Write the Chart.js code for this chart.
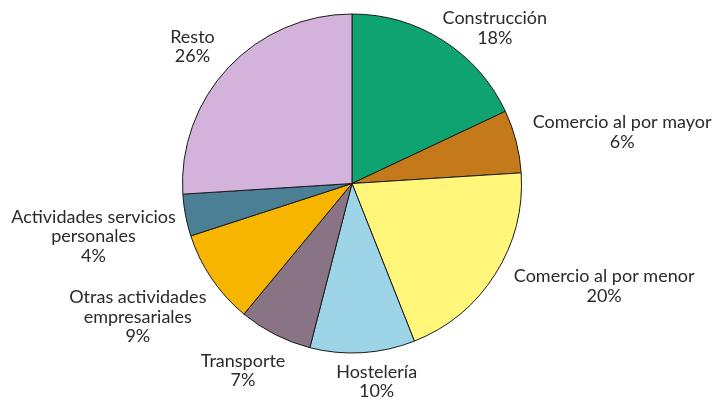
<!DOCTYPE html>
<html>
<head>
<meta charset="utf-8">
<script src="https://cdn.jsdelivr.net/npm/chart.js@4"></script>
<style>
html,body{margin:0;padding:0;background:#fff;}
#wrap{width:721px;height:401px;position:relative;}
</style>
</head>
<body>
<div id="wrap"><canvas id="c" width="721" height="401"></canvas></div>
<script>
const categories = [
  ["Construcción"],
  ["Comercio al por mayor"],
  ["Comercio al por menor"],
  ["Hostelería"],
  ["Transporte"],
  ["Otras actividades", "empresariales"],
  ["Actividades servicios", "personales"],
  ["Resto"]
];
const values = [18, 6, 20, 10, 7, 9, 4, 26];
const colors = ["#0FA371", "#C47A1A", "#FFF67A", "#9DD4E8", "#887484", "#F8B500", "#4A7F95", "#D3B2DB"];
// label anchor offsets (px) from the slice's outer edge midpoint
const labelOffsets = [[52, -12], [106, -9], [109, 12], [14, 29], [-32, 36], [-74, 38], [-92, 21], [-36, -21]];

const labelPlugin = {
  id: 'outLabels',
  afterDraw(chart) {
    const ctx = chart.ctx;
    const meta = chart.getDatasetMeta(0);
    const total = values.reduce((a, b) => a + b, 0);
    ctx.save();
    ctx.font = '18px Lato';
    ctx.fillStyle = '#2a2a2a';
    ctx.textAlign = 'center';
    ctx.textBaseline = 'middle';
    meta.data.forEach((arc, i) => {
      const p = arc.getProps(['x', 'y', 'startAngle', 'endAngle', 'outerRadius'], true);
      const mid = (p.startAngle + p.endAngle) / 2;
      const ex = p.x + Math.cos(mid) * p.outerRadius;
      const ey = p.y + Math.sin(mid) * p.outerRadius;
      const lines = categories[i].concat([Math.round(values[i] / total * 100) + '%']);
      const lh = 19.5;
      const cx = ex + labelOffsets[i][0];
      const cy = ey + labelOffsets[i][1];
      const y0 = cy - (lines.length - 1) * lh / 2;
      lines.forEach((t, k) => ctx.fillText(t, cx, y0 + k * lh));
    });
    ctx.restore();
  }
};

new Chart(document.getElementById('c'), {
  type: 'pie',
  data: {
    labels: categories.map(l => l.join(' ')),
    datasets: [{
      data: values,
      backgroundColor: colors,
      borderColor: '#1a1a1a',
      borderWidth: 1
    }]
  },
  options: {
    responsive: false,
    animation: false,
    layout: { padding: { left: 182, right: 199, top: 13, bottom: 47 } },
    plugins: { legend: { display: false }, tooltip: { enabled: false } }
  },
  plugins: [labelPlugin]
});
</script>
</body>
</html>
